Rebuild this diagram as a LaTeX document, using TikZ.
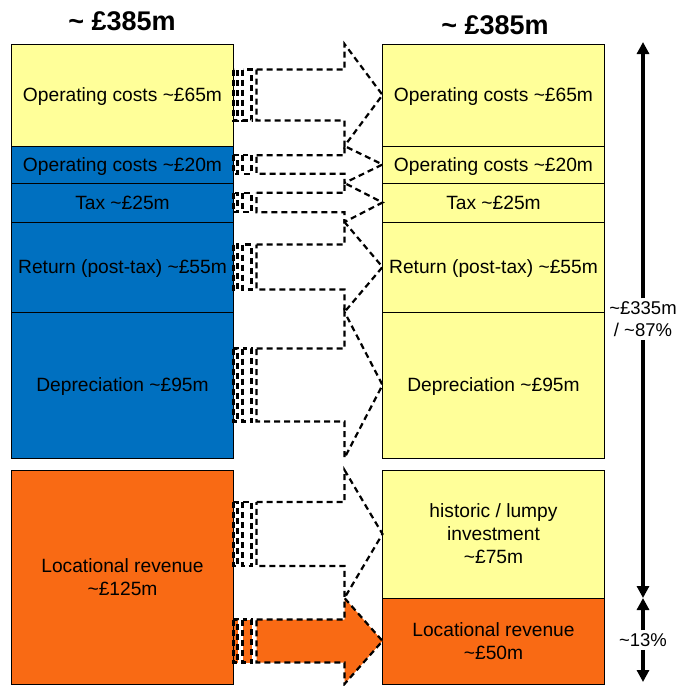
\documentclass[tikz,border=0pt]{standalone}
\usepackage{fontspec}
\setmainfont{Liberation Sans}
\usepackage{tikz}
\usetikzlibrary{positioning, arrows.meta, calc}
\definecolor{paleyellow}{RGB}{255,255,153}
\definecolor{chargeblue}{RGB}{0,112,192}
\definecolor{locorange}{RGB}{249,106,20}
\newcommand{\tld}{\textasciitilde}
\tikzset{
  block/.style={
    draw=black, line width=1pt, minimum width=222pt, inner sep=2pt,
    outer sep=0pt, align=center, text depth=0pt,
    font=\fontsize{19.2}{23}\selectfont
  },
  cost/.style={block, fill=paleyellow},
  allowed/.style={block, fill=chargeblue},
  locational/.style={block, fill=locorange},
  flowarrow/.style={draw=black, line width=2.2pt, dash pattern=on 6pt off 4pt},
  heading/.style={font=\fontsize{27}{30}\selectfont\bfseries},
  span/.style={line width=3.5pt, -{Triangle[width=12pt,length=12pt]}},
  spanlabel/.style={align=center, inner sep=3pt, font=\fontsize{18.5}{22}\selectfont},
}
\newcommand{\stripedarrow}[3][]{%
  \path ($(#3.north west)!0.25!(#3.south west)$) coordinate (st)
        ($(#3.north west)!0.75!(#3.south west)$) coordinate (sb)
        ([xshift=-38pt]#3.north west) coordinate (ht)
        ([xshift=-38pt]#3.south west) coordinate (hb)
        (#2.east |- st) coordinate (tl)
        (#2.east |- sb) coordinate (bl);
  \draw[flowarrow,#1] ([xshift=23pt]tl) -- (ht |- st) -- (ht) -- (#3.west)
    -- (hb) -- (hb |- sb) -- ([xshift=23pt]bl) -- cycle;
  \draw[flowarrow,#1] (tl) rectangle ([xshift=4pt]bl);
  \draw[flowarrow,#1] ([xshift=9pt]tl) rectangle ([xshift=18pt]bl);
}
\begin{document}
\begin{tikzpicture}[x=1pt, y=-1pt]
  \useasboundingbox (0,0) rectangle (678,686);

  \node[heading] (totalL) at (122,21) {\tld{} £385m};
  \node[heading] (totalR) at (495,25) {\tld{} £385m};

  \node[cost, minimum height=102pt, anchor=north] (op65L) at (122.5,44) {Operating costs \tld£65m};
  \node[allowed, minimum height=37pt, below=0pt of op65L] (op20L) {Operating costs \tld£20m};
  \node[allowed, minimum height=39pt, below=0pt of op20L] (taxL) {Tax \tld£25m};
  \node[allowed, minimum height=90pt, below=0pt of taxL] (retL) {Return (post-tax) \tld£55m};
  \node[allowed, minimum height=146pt, below=0pt of retL] (depL) {Depreciation \tld£95m};
  \node[locational, minimum height=214pt, below=12pt of depL] (locL) {Locational revenue\\\tld£125m};

  \node[cost, minimum height=102pt, right=149pt of op65L] (op65R) {Operating costs \tld£65m};
  \node[cost, minimum height=37pt, below=0pt of op65R] (op20R) {Operating costs \tld£20m};
  \node[cost, minimum height=39pt, below=0pt of op20R] (taxR) {Tax \tld£25m};
  \node[cost, minimum height=90pt, below=0pt of taxR] (retR) {Return (post-tax) \tld£55m};
  \node[cost, minimum height=146pt, below=0pt of retR] (depR) {Depreciation \tld£95m};
  \node[cost, minimum height=128pt, below=12pt of depR] (lumpyR) {historic / lumpy\\investment\\\tld£75m};
  \node[locational, minimum height=86pt, below=0pt of lumpyR] (locR) {Locational revenue\\\tld£50m};

  \stripedarrow{op65L}{op65R}
  \stripedarrow{op20L}{op20R}
  \stripedarrow{taxL}{taxR}
  \stripedarrow{retL}{retR}
  \stripedarrow{depL}{depR}
  \stripedarrow{locL}{lumpyR}
  \stripedarrow[fill=locorange]{locL}{locR}

  \node[spanlabel] (shareA) at (643,319) {\tld£335m\\/ \tld87\%};
  \draw[span] (shareA) -- ([yshift=2pt]shareA |- op65R.north);
  \draw[span] (shareA) -- (shareA |- locR.north);
  \node[spanlabel] (shareB) at (643,640) {\tld13\%};
  \draw[span] (shareB) -- (shareB |- locR.north);
  \draw[span] (shareB) -- ([yshift=2pt]shareB |- locR.south);
\end{tikzpicture}
\end{document}
